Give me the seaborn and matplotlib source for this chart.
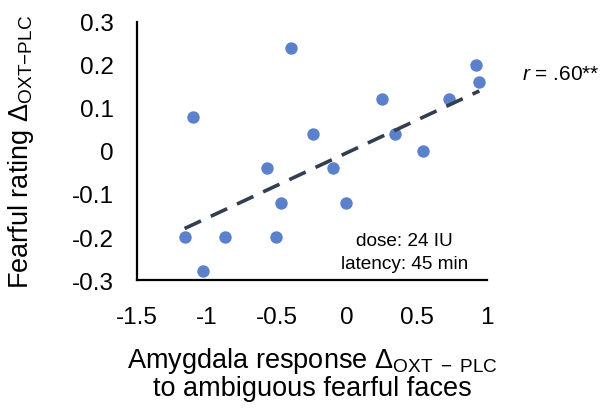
import numpy as np
import pandas as pd
import seaborn as sns
import matplotlib.pyplot as plt

# amygdala response (x) and fearful rating (y)
amygdala = [-1.10, -0.40, 0.92, 0.945, 0.25, 0.73, -0.24, 0.345, 0.54,
            -0.57, -0.10, -0.47, -0.005, -1.16, -0.875, -0.505, -1.03]
fearful = [0.08, 0.24, 0.20, 0.16, 0.12, 0.12, 0.04, 0.04, 0.0,
           -0.04, -0.04, -0.12, -0.12, -0.20, -0.20, -0.20, -0.28]
# trendline as drawn in the figure (slope, intercept)
trend_slope = 0.152
trend_intercept = -0.004
xticks = [-1.5, -1, -0.5, 0, 0.5, 1]
yticks = [-0.3, -0.2, -0.1, 0, 0.1, 0.2, 0.3]

df = pd.DataFrame({"amygdala": amygdala, "fearful": fearful})
trend_x = np.array([df.amygdala.min(), df.amygdala.max()])
trend = pd.DataFrame({"x": trend_x, "y": trend_intercept + trend_slope * trend_x})

sns.set_style("white")
plt.rcParams['font.family'] = ['Liberation Sans', 'DejaVu Sans']
plt.rcParams['mathtext.fontset'] = 'custom'
plt.rcParams['mathtext.rm'] = 'Liberation Sans'
plt.rcParams['mathtext.it'] = 'Liberation Sans:italic'
plt.rcParams['text.color'] = 'black'
plt.rcParams['axes.labelcolor'] = 'black'
plt.rcParams['xtick.color'] = 'black'
plt.rcParams['ytick.color'] = 'black'

fig = plt.figure(figsize=(6.1, 4.1), dpi=100)
ax = fig.add_axes([0.2246, 0.3146, 0.5738, 0.6294])

sns.scatterplot(data=df, x="amygdala", y="fearful", ax=ax, s=80,
                color="#5B80CC", linewidth=0, zorder=2)
sns.lineplot(data=trend, x="x", y="y", ax=ax, color="#333F50", lw=2.6, zorder=3)
ax.lines[-1].set_dashes((5, 3))

ax.set_xlim(-1.5, 1)
ax.set_ylim(-0.3, 0.3)
ax.set_xticks(xticks)
ax.set_xticklabels([f"{t:g}" for t in xticks])
ax.set_yticks(yticks)
ax.set_yticklabels([f"{t:g}" for t in yticks])
ax.tick_params(axis='y', length=0, pad=17, labelsize=17.5)
ax.tick_params(axis='x', length=0, pad=19, labelsize=17.5)

for s in ['top', 'right']:
    ax.spines[s].set_visible(False)
for s in ['left', 'bottom']:
    ax.spines[s].set_color('black')
    ax.spines[s].set_linewidth(1.6)

ax.set_xlabel("Amygdala response $\\Delta_{\\mathrm{OXT\\ -\\ PLC}}$\nto ambiguous fearful faces",
              fontsize=19.5, labelpad=12, linespacing=1.0)
ax.set_ylabel("Fearful rating $\\Delta_{\\mathrm{OXT{-}PLC}}$", fontsize=19.5)
ax.yaxis.set_label_coords(-0.29, 0.5)

ax.text(0.765, 0.109, "dose: 24 IU\nlatency: 45 min", transform=ax.transAxes,
        ha='center', va='center', fontsize=13.7, linespacing=1.45)
ax.text(1.1, 0.80, "$r$ = .60**", transform=ax.transAxes,
        ha='left', va='center', fontsize=15)

fig.savefig("out.png", dpi=100)
